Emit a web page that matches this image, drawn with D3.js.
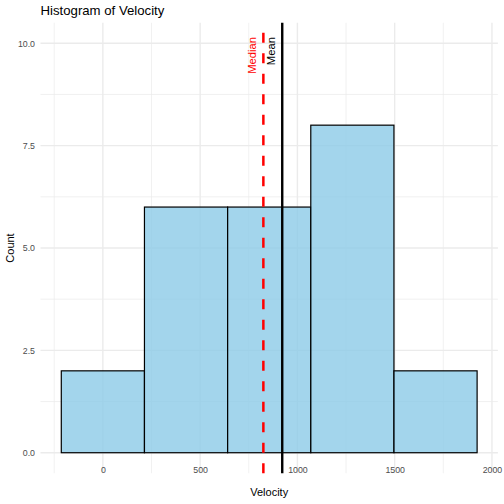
<!DOCTYPE html>
<html>
<head>
<meta charset="utf-8">
<script src="https://cdn.jsdelivr.net/npm/d3@7"></script>
<style>
body{margin:0;background:#fff}
text{font-family:"Liberation Sans",Arial,Helvetica,sans-serif}
</style>
</head>
<body>
<svg id="chart" width="504" height="504"></svg>
<script>
// histogram data
let binEdges = [-213.75, 213.75, 641.25, 1068.75, 1496.25, 1923.75]
let counts = [2, 6, 6, 8, 2]
let meanVelocity = 922
let medianVelocity = 825
let xTicks = [0, 500, 1000, 1500, 2000]
let xMinor = [-250, 250, 750, 1250, 1750]
let yTicks = [0, 2.5, 5, 7.5, 10]
let yMinor = [1.25, 3.75, 6.25, 8.75]
let labelY = 10.15

let svg = d3.select("#chart")
let margin = {top: 22.8, right: 6.1, bottom: 30.8, left: 40.5}
let W = 504, H = 504

//ggplot style 5% expansion
let xLo = binEdges[0], xHi = binEdges[binEdges.length - 1]
let xPad = (xHi - xLo) * 0.05
let x = d3.scaleLinear().domain([xLo - xPad, xHi + xPad]).range([margin.left, W - margin.right])
let yPad = 10 * 0.05
let y = d3.scaleLinear().domain([0 - yPad, 10 + yPad]).range([H - margin.bottom, margin.top])

let bins = counts.map(function(c, i){
    return {x0: binEdges[i], x1: binEdges[i + 1], n: c}
})

// grid
let grid = svg.append("g")
grid.selectAll(".xminor").data(xMinor).enter().append("line")
    .attr("x1", d => x(d)).attr("x2", d => x(d))
    .attr("y1", y.range()[0]).attr("y2", y.range()[1])
    .attr("stroke", "#ebebeb").attr("stroke-width", 0.7)
grid.selectAll(".yminor").data(yMinor).enter().append("line")
    .attr("y1", d => y(d)).attr("y2", d => y(d))
    .attr("x1", x.range()[0]).attr("x2", x.range()[1])
    .attr("stroke", "#ebebeb").attr("stroke-width", 0.7)
grid.selectAll(".xmajor").data(xTicks).enter().append("line")
    .attr("x1", d => x(d)).attr("x2", d => x(d))
    .attr("y1", y.range()[0]).attr("y2", y.range()[1])
    .attr("stroke", "#ebebeb").attr("stroke-width", 1.4)
grid.selectAll(".ymajor").data(yTicks).enter().append("line")
    .attr("y1", d => y(d)).attr("y2", d => y(d))
    .attr("x1", x.range()[0]).attr("x2", x.range()[1])
    .attr("stroke", "#ebebeb").attr("stroke-width", 1.4)

// bars
svg.append("g").selectAll("rect").data(bins).enter().append("rect")
    .attr("x", d => x(d.x0))
    .attr("width", d => x(d.x1) - x(d.x0))
    .attr("y", d => y(d.n))
    .attr("height", d => y(0) - y(d.n))
    .attr("fill", "#8ccae7").attr("fill-opacity", 0.8)
    .attr("stroke", "#000").attr("stroke-width", 1.2)

// median + mean lines
svg.append("line")
    .attr("x1", x(medianVelocity)).attr("x2", x(medianVelocity))
    .attr("y1", y.range()[0]).attr("y2", y.range()[1])
    .attr("stroke", "#ff0000").attr("stroke-width", 2.5)
    .attr("stroke-dasharray", "10,10.5")
svg.append("line")
    .attr("x1", x(meanVelocity)).attr("x2", x(meanVelocity))
    .attr("y1", y.range()[0]).attr("y2", y.range()[1])
    .attr("stroke", "#000").attr("stroke-width", 2.4)

function vLabel(v, txt, col){
    let px = x(v) - 7, py = y(labelY)
    svg.append("text")
        .attr("transform", "translate(" + px + "," + py + ") rotate(-90)")
        .attr("text-anchor", "end")
        .attr("font-size", 11.2)
        .attr("fill", col)
        .text(txt)
}
vLabel(medianVelocity, "Median", "#ff0000")
vLabel(meanVelocity, "Mean", "#000")

// axes (no lines, only labels like theme_minimal)
let xAxis = d3.axisBottom(x).tickValues(xTicks).tickSize(0).tickPadding(0).tickFormat(d3.format("d"))
let gx = svg.append("g").attr("transform", "translate(0," + (y.range()[0] - 6) + ")").call(xAxis)
gx.select(".domain").remove()
gx.selectAll("text").attr("font-size", 8.8).attr("fill", "#4d4d4d").attr("font-family", null)

let yAxis = d3.axisLeft(y).tickValues(yTicks).tickSize(0).tickPadding(5.5).tickFormat(d3.format(".1f"))
let gy = svg.append("g").attr("transform", "translate(" + x.range()[0] + ",0)").call(yAxis)
gy.select(".domain").remove()
gy.selectAll("text").attr("font-size", 8.8).attr("fill", "#4d4d4d").attr("font-family", null)

// titles
svg.append("text").attr("x", (x.range()[0] + x.range()[1]) / 2).attr("y", 496)
    .attr("text-anchor", "middle").attr("font-size", 11).attr("fill", "#000").text("Velocity")
svg.append("text")
    .attr("transform", "translate(14," + ((y.range()[0] + y.range()[1]) / 2) + ") rotate(-90)")
    .attr("text-anchor", "middle").attr("font-size", 11).attr("fill", "#000").text("Count")
svg.append("text").attr("x", x.range()[0]).attr("y", 14.8)
    .attr("font-size", 13.2).attr("fill", "#000").text("Histogram of Velocity")
</script>
</body>
</html>
